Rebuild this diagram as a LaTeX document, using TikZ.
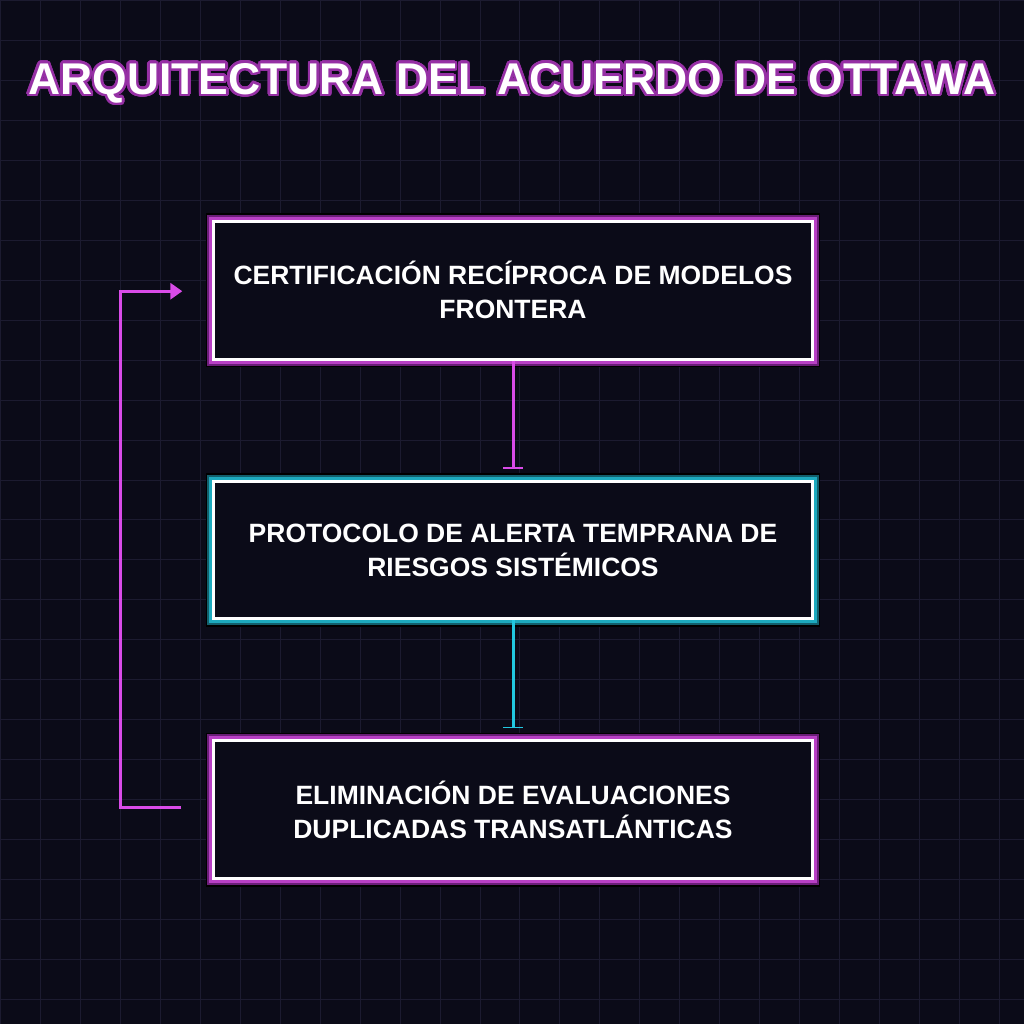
\documentclass[tikz,border=0pt]{standalone}
\usepackage{fontspec}
\setmainfont{Liberation Sans}
\usepackage{contour}
\usetikzlibrary{positioning,arrows.meta}
\definecolor{bgc}{HTML}{0B0B18}
\definecolor{gridc}{HTML}{1C1B30}
\definecolor{magc}{HTML}{D94BE8}
\definecolor{magd}{HTML}{6A1E78}
\definecolor{cyac}{HTML}{22C8E0}
\definecolor{cyad}{HTML}{125F6C}
\tikzset{
  stage/.style={draw=white, line width=3pt, fill=bgc, text=white, align=center,
    font=\bfseries\fontsize{26.5}{34}\selectfont, minimum width=599pt, minimum height=138pt,
    inner sep=0pt},
  glowmag/.style={preaction={draw=black, line width=16pt},
    preaction={draw=magd, line width=13pt}, preaction={draw=magc!85!black, line width=9pt}},
  glowcya/.style={preaction={draw=black, line width=16pt},
    preaction={draw=cyad, line width=13pt}, preaction={draw=cyac!85!black, line width=9pt}},
  link/.style={line width=3pt, -{Bar[width=20pt,line width=1.5pt]}},
  back/.style={line width=3pt, -{Triangle[length=12pt,width=16pt]}, magc}
}
\begin{document}
\begin{tikzpicture}[x=1pt, y=-1pt]
\fill[bgc] (0,0) rectangle (1024,1024);
\draw[gridc, line width=1pt] (0,0) grid[step=40pt] (1024,1024);
\useasboundingbox (0,0) rectangle (1024,1024);

\node[font=\bfseries\fontsize{44.5}{50}\selectfont, text=white] (title) at (512,84)
  {\contourlength{2.5pt}\contournumber{32}\contour{magd!60!magc}{ARQUITECTURA DEL ACUERDO DE OTTAWA}};

% boxes
\node[stage, glowmag] (cert) at (513,290) {CERTIFICACIÓN RECÍPROCA DE MODELOS\\FRONTERA};
\node[stage, glowcya] (alert) at (513,550) {PROTOCOLO DE ALERTA TEMPRANA DE\\RIESGOS SISTÉMICOS};
\node[stage, glowmag] (elim) at (513,810) {ELIMINACIÓN DE EVALUACIONES\\DUPLICADAS TRANSATLÁNTICAS};

% connectors
\draw[link, magc] (cert.south) -- ([yshift=11pt]alert.north);
\draw[link, cyac] (alert.south) -- ([yshift=11pt]elim.north);
\coordinate (loopin) at (181,808);
\coordinate (loopout) at (182,291);
\draw[back] (loopin) -- (120,808) |- (loopout);
\end{tikzpicture}
\end{document}
